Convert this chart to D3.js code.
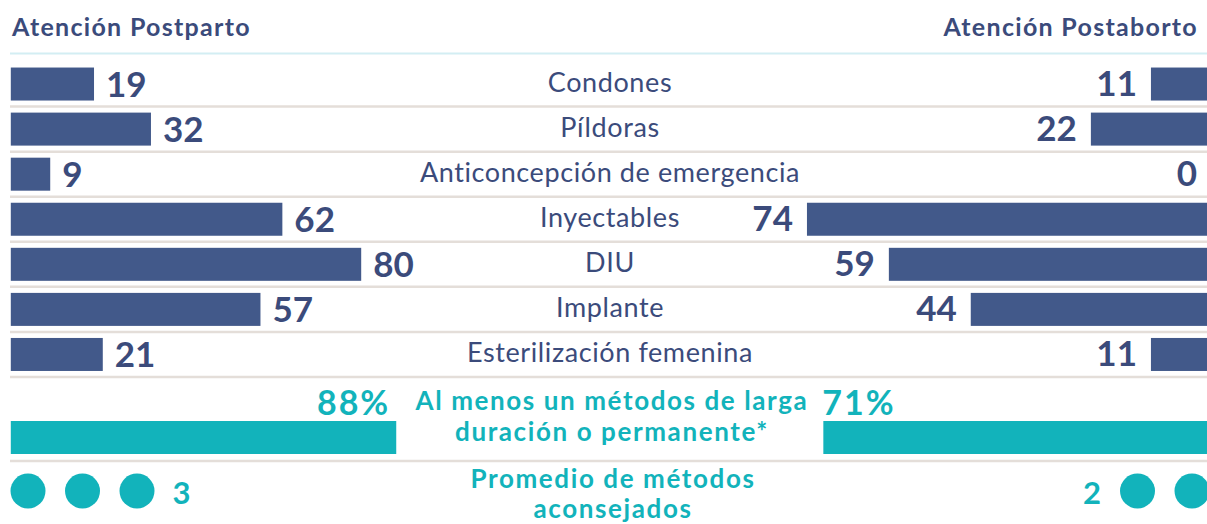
<!DOCTYPE html>
<html>
<head>
<meta charset="utf-8">
<script src="https://cdn.jsdelivr.net/npm/d3@7"></script>
<style>
    body { margin: 0; background: #fff; }
    svg { display: block; font-family: Lato, "Open Sans", sans-serif; }
</style>
</head>
<body>
<div id="chart"></div>
<script>
// data
const categories = ["Condones", "Píldoras", "Anticoncepción de emergencia", "Inyectables", "DIU", "Implante", "Esterilización femenina"];
const postparto = [19, 32, 9, 62, 80, 57, 21];
const postaborto = [11, 22, 0, 74, 59, 44, 11];
const sides = ["Atención Postparto", "Atención Postaborto"];
const largaDuracion = [88, 71];
const largaLabel = ["Al menos un métodos de larga", "duración o permanente*"];
const promedioMetodos = [3, 2];
const promedioLabel = ["Promedio de métodos", "aconsejados"];

const width = 1207, height = 524;
const navy = "#42598a", navyText = "#3b4b7b", teal = "#12b3bb", sepColor = "#e4ded9";

const svg = d3.select("#chart").append("svg")
    .attr("width", width)
    .attr("height", height);

const xL = d3.scaleLinear().domain([0, 100]).range([10.8, 448.8]);
const xR = d3.scaleLinear().domain([0, 100]).range([1211, 665]);
const y = d3.scaleBand().domain(categories).range([61.5, 377]).padding(0);
const barH = 33;
const cx = 610;

// headers
svg.append("text")
    .attr("x", 12).attr("y", 36)
    .attr("font-size", 25).attr("font-weight", 700)
    .attr("letter-spacing", 1.3)
    .attr("fill", navyText)
    .text(sides[0]);
svg.append("text")
    .attr("x", 1198).attr("y", 36)
    .attr("text-anchor", "end")
    .attr("font-size", 25).attr("font-weight", 700)
    .attr("letter-spacing", 1.3)
    .attr("fill", navyText)
    .text(sides[1]);

svg.append("line")
    .attr("x1", 10).attr("x2", width)
    .attr("y1", 53.5).attr("y2", 53.5)
    .attr("stroke", "#d3eef3").attr("stroke-width", 2);

// separators
svg.append("g").selectAll("line")
    .data(categories)
    .join("line")
    .attr("x1", 10).attr("x2", width)
    .attr("y1", d => y(d) + y.bandwidth())
    .attr("y2", d => y(d) + y.bandwidth())
    .attr("stroke", sepColor).attr("stroke-width", 2.5);

const rows = svg.append("g").selectAll("g")
    .data(categories)
    .join("g")
    .attr("transform", d => `translate(0,${y(d) + y.bandwidth() / 2})`);

rows.append("rect")
    .attr("x", xL(0))
    .attr("y", -barH / 2)
    .attr("width", (d, i) => xL(postparto[i]) - xL(0))
    .attr("height", barH)
    .attr("fill", navy);

rows.append("rect")
    .attr("x", (d, i) => xR(postaborto[i]))
    .attr("y", -barH / 2)
    .attr("width", (d, i) => xR(0) - xR(postaborto[i]))
    .attr("height", barH)
    .attr("fill", navy);

rows.append("text")
    .attr("x", (d, i) => xL(postparto[i]) + 12)
    .attr("y", 13)
    .attr("font-size", 35).attr("font-weight", 700)
    .attr("fill", navyText)
    .text((d, i) => postparto[i]);

rows.append("text")
    .attr("x", (d, i) => xR(postaborto[i]) - 14)
    .attr("y", 12)
    .attr("text-anchor", "end")
    .attr("font-size", 35).attr("font-weight", 700)
    .attr("fill", navyText)
    .text((d, i) => postaborto[i]);

rows.append("text")
    .attr("x", cx)
    .attr("y", 8)
    .attr("text-anchor", "middle")
    .attr("font-size", 27)
    .attr("letter-spacing", 0.6)
    .attr("fill", navyText)
    .text(d => d);

// long-acting row
const tealY = 421;
svg.append("rect")
    .attr("x", xL(0)).attr("y", tealY)
    .attr("width", xL(largaDuracion[0]) - xL(0)).attr("height", barH)
    .attr("fill", teal);
svg.append("rect")
    .attr("x", xR(largaDuracion[1])).attr("y", tealY)
    .attr("width", xR(0) - xR(largaDuracion[1])).attr("height", barH)
    .attr("fill", teal);
svg.append("text")
    .attr("x", xL(largaDuracion[0]) - 6).attr("y", 415)
    .attr("text-anchor", "end")
    .attr("font-size", 34).attr("font-weight", 700)
    .attr("letter-spacing", 2)
    .attr("fill", teal)
    .text(largaDuracion[0] + "%");
svg.append("text")
    .attr("x", xR(largaDuracion[1]) - 1).attr("y", 415)
    .attr("font-size", 34).attr("font-weight", 700)
    .attr("letter-spacing", 2)
    .attr("fill", teal)
    .text(largaDuracion[1] + "%");

svg.append("text")
    .attr("text-anchor", "middle")
    .attr("font-size", 26).attr("font-weight", 700)
    .attr("letter-spacing", 1.6)
    .attr("fill", teal)
    .selectAll("tspan")
    .data(largaLabel)
    .join("tspan")
    .attr("x", 612)
    .attr("y", (d, i) => 410 + i * 31)
    .text(d => d);

svg.append("line")
    .attr("x1", 10).attr("x2", width)
    .attr("y1", 461).attr("y2", 461)
    .attr("stroke", sepColor).attr("stroke-width", 2.5);

// average methods row
const dotY = 491, dotR = 17.5;
const dotL = d3.scaleLinear().domain([0, 1]).range([28, 82.5]);
const dotR2 = d3.scaleLinear().domain([0, 1]).range([1192, 1137.5]);

svg.append("g").selectAll("circle")
    .data(d3.range(promedioMetodos[0]))
    .join("circle")
    .attr("cx", d => dotL(d)).attr("cy", dotY).attr("r", dotR)
    .attr("fill", teal);
svg.append("g").selectAll("circle")
    .data(d3.range(promedioMetodos[1]))
    .join("circle")
    .attr("cx", d => dotR2(d)).attr("cy", dotY).attr("r", dotR)
    .attr("fill", teal);

svg.append("text")
    .attr("x", dotL(promedioMetodos[0] - 1) + dotR + 18).attr("y", 504)
    .attr("font-size", 31).attr("font-weight", 700)
    .attr("fill", teal)
    .text(promedioMetodos[0]);
svg.append("text")
    .attr("x", dotR2(promedioMetodos[1] - 1) - dotR - 19).attr("y", 504)
    .attr("text-anchor", "end")
    .attr("font-size", 31).attr("font-weight", 700)
    .attr("fill", teal)
    .text(promedioMetodos[1]);

svg.append("text")
    .attr("text-anchor", "middle")
    .attr("font-size", 26).attr("font-weight", 700)
    .attr("letter-spacing", 1.6)
    .attr("fill", teal)
    .selectAll("tspan")
    .data(promedioLabel)
    .join("tspan")
    .attr("x", 613)
    .attr("y", (d, i) => 488 + i * 30)
    .text(d => d);
</script>
</body>
</html>
